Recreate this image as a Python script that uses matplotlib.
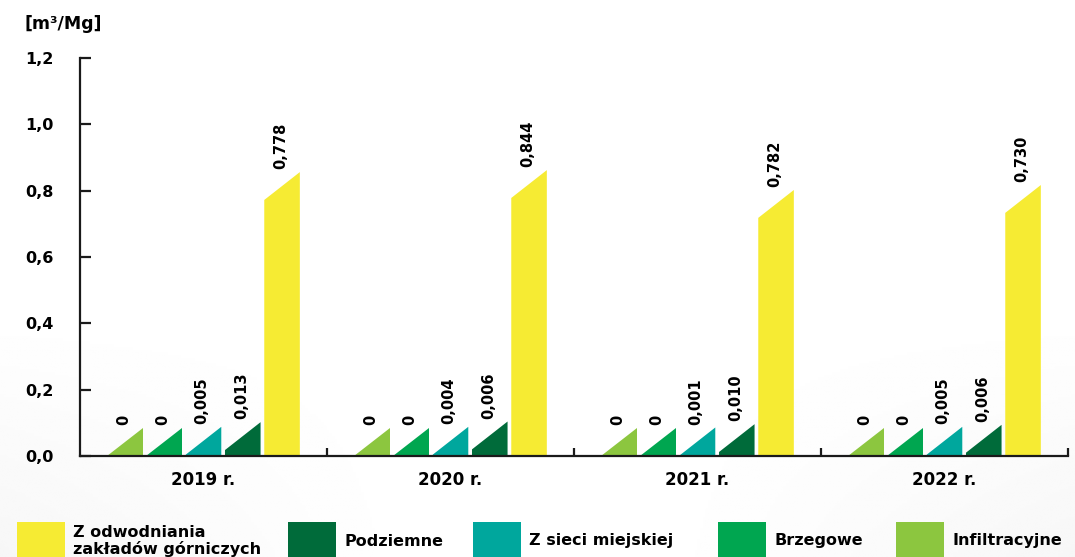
import numpy as np
import matplotlib
matplotlib.use("Agg")
import matplotlib.pyplot as plt
from matplotlib.patches import Polygon, Rectangle

plt.rcParams["font.family"] = "DejaVu Sans"
plt.rcParams["font.weight"] = "bold"

# Data
years = ["2019 r.", "2020 r.", "2021 r.", "2022 r."]
series = ["Infiltracyjne", "Brzegowe", "Z sieci miejskiej", "Podziemne",
          "Z odwodniania\nzakładów górniczych"]
colors = ["#8CC63F", "#00A650", "#00A79D", "#006B3A", "#F6EB33"]

# value labels printed on the chart
labels = [
    ["0", "0", "0", "0"],
    ["0", "0", "0", "0"],
    ["0,005", "0,004", "0,001", "0,005"],
    ["0,013", "0,006", "0,010", "0,006"],
    ["0,778", "0,844", "0,782", "0,730"],
]
# drawn bar heights (left edge)
heights = [
    [0.0, 0.0, 0.0, 0.0],
    [0.0, 0.0, 0.0, 0.0],
    [0.004, 0.004, 0.002, 0.004],
    [0.018, 0.020, 0.012, 0.010],
    [0.772, 0.778, 0.718, 0.733],
]
cap = 0.084  # slanted top

W, H = 1075, 557
fig = plt.figure(figsize=(W / 100, H / 100), dpi=100)

# faint grey background shading
bg = fig.add_axes([0, 0, 1, 1], zorder=-10)
yy, xx = np.mgrid[0:1:200j, 0:1:400j]
shade = np.clip(yy - 0.55, 0, None) * np.clip(np.abs(xx - 0.5) * 2 - 0.2, 0, None)
bg.imshow(1 - 0.09 * shade, cmap="gray", vmin=0, vmax=1, aspect="auto",
          extent=[0, 1, 0, 1], origin="upper")
bg.axis("off")

ax = fig.add_axes([80 / W, 1 - 456 / H, 988 / W, 398 / H])
ax.patch.set_alpha(0)

step = 0.159
bw = 0.144
for k, (hs, labs, col) in enumerate(zip(heights, labels, colors)):
    for i, (h, lab) in enumerate(zip(hs, labs)):
        xc = i + (k - 2) * step
        x0, x1 = xc - bw / 2, xc + bw / 2
        poly = Polygon([(x0, 0), (x1, 0), (x1, h + cap), (x0, h)],
                       closed=True, facecolor=col, edgecolor="none")
        ax.add_patch(poly)
        ax.annotate(lab, (xc, h + cap), xytext=(-1, 2), textcoords="offset points",
                    rotation=90, ha="center", va="bottom", fontsize=10.5,
                    fontweight="bold")

ax.set_xlim(-0.5, 3.5)
ax.set_ylim(0, 1.2)
ax.spines["top"].set_visible(False)
ax.spines["right"].set_visible(False)
for s in ["left", "bottom"]:
    ax.spines[s].set_linewidth(1.6)
    ax.spines[s].set_color("#1a1a1a")

yt = np.arange(0, 1.21, 0.2)
ax.set_yticks(yt)
ax.set_yticklabels([f"{v:.1f}".replace(".", ",") for v in yt], fontsize=11.5,
                   fontweight="bold")
ax.tick_params(axis="y", direction="in", length=8, width=1.6, pad=39.5,
               color="#1a1a1a")
for t in ax.get_yticklabels():
    t.set_horizontalalignment("left")

ax.set_xticks(range(len(years)))
ax.set_xticklabels(years, fontsize=12, fontweight="bold")
ax.set_xticks([0.5, 1.5, 2.5, 3.5], minor=True)
ax.tick_params(axis="x", which="major", length=0, pad=10.5)
ax.tick_params(axis="x", which="minor", direction="in", length=6, width=1.6,
               color="#1a1a1a")

fig.text(25 / W, 1 - 24 / H, "[m³/Mg]", fontsize=12.5, fontweight="bold",
         ha="left", va="center")

# legend along the bottom edge
leg_order = [4, 3, 2, 1, 0]
patch_x = [17, 288, 473, 718, 896]
for px, k in zip(patch_x, leg_order):
    fig.add_artist(Rectangle((px / W, 1 - 558 / H), 48 / W, 36 / H,
                             transform=fig.transFigure, facecolor=colors[k],
                             edgecolor="none"))
    fig.text((px + 56) / W, 1 - 541 / H, series[k], fontsize=11.5,
             fontweight="bold", ha="left", va="center", linespacing=1.05)

fig.savefig("out.png", dpi=100)
